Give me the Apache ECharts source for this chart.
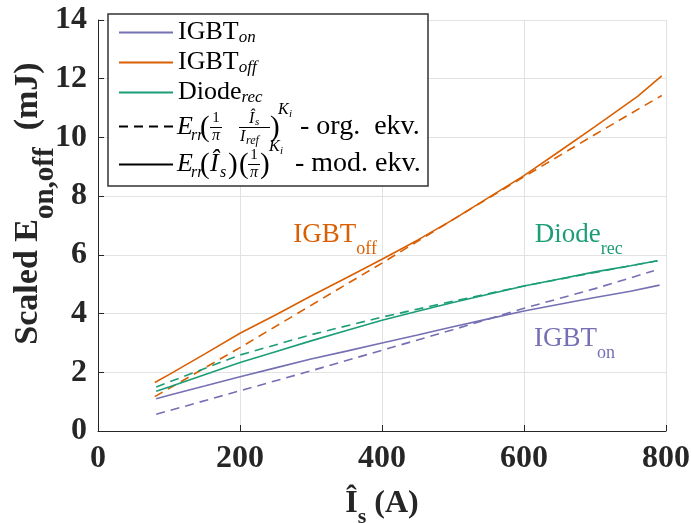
<!DOCTYPE html>
<html>
<head>
<meta charset="utf-8">
<script src="https://cdn.jsdelivr.net/npm/echarts@6/dist/echarts.min.js"></script>
<style>html,body{margin:0;padding:0;background:#fff}#c{width:691px;height:523px}</style>
</head>
<body>
<div id="c"></div>
<script>
// ---- data ----
const xTicks = [0, 200, 400, 600, 800];
const yTicks = [0, 2, 4, 6, 8, 10, 12, 14];

const igbtOnX      = [82, 100, 150, 200, 250, 300, 350, 400, 450, 500, 550, 600, 650, 700, 750, 791];
const igbtOnMod    = [1.10, 1.22, 1.53, 1.85, 2.15, 2.45, 2.72, 3.00, 3.27, 3.55, 3.82, 4.09, 4.32, 4.55, 4.76, 4.97];
const igbtOnOrgX   = [82, 200, 300, 400, 500, 600, 700, 783];
const igbtOnOrg    = [0.57, 1.37, 2.05, 2.75, 3.45, 4.18, 4.85, 5.46];

const igbtOffX     = [80, 100, 150, 200, 250, 300, 350, 400, 450, 500, 550, 600, 650, 700, 760, 794];
const igbtOffMod   = [1.65, 1.92, 2.62, 3.33, 3.95, 4.60, 5.22, 5.85, 6.50, 7.20, 7.95, 8.70, 9.53, 10.37, 11.40, 12.10];
const igbtOffOrgX  = [80, 200, 300, 400, 500, 600, 700, 794];
const igbtOffOrg   = [1.17, 2.84, 4.28, 5.72, 7.20, 8.66, 10.10, 11.43];

const diodeX       = [82, 100, 150, 200, 250, 300, 350, 400, 450, 500, 550, 600, 650, 700, 750, 788];
const diodeMod     = [1.35, 1.50, 1.92, 2.33, 2.70, 3.07, 3.42, 3.77, 4.08, 4.38, 4.66, 4.94, 5.18, 5.42, 5.63, 5.80];
const diodeOrgX    = [82, 200, 300, 400, 500, 600, 700, 788];
const diodeOrg     = [1.50, 2.59, 3.28, 3.88, 4.42, 4.94, 5.40, 5.80];

const seriesNames = ['IGBT_on', 'IGBT_off', 'Diode_rec', 'org', 'mod'];
// annotation anchors [x, y] in data units
const annOff   = [334, 6.68];
const annDiode = [677, 6.68];
const annOn    = [671, 3.13];

// ---- styling ----
const C_ON = '#7570b3', C_OFF = '#d95f02', C_DI = '#1b9e77';
const SERIF = '"Liberation Serif", "Times New Roman", serif';
const DASH = [9, 6];

function pairs(xs, ys) { return xs.map((x, i) => [x, ys[i]]); }

function annLabel(color, main, sub) {
  return {
    show: true, position: 'inside',
    formatter: '{m|' + main + '}{s|' + sub + '}',
    rich: {
      m: { fontFamily: SERIF, fontSize: 27, lineHeight: 27, color: color },
      s: { fontFamily: SERIF, fontSize: 18, lineHeight: 18, padding: [28, 0, 0, 0], color: color }
    }
  };
}
function mp(coord, color, main, sub) {
  return {
    symbol: 'circle', symbolSize: 1, silent: true,
    itemStyle: { color: 'transparent' },
    label: annLabel(color, main, sub),
    data: [{ coord: coord }]
  };
}

const chart = echarts.init(document.getElementById('c'), null, { renderer: 'canvas' });

const axisCol = '#262626';
const option = {
  animation: false,
  backgroundColor: '#fff',
  grid: { left: 98, right: 25, top: 20, bottom: 92, containLabel: false, outerBoundsMode: 'none' },
  xAxis: {
    type: 'value', min: xTicks[0], max: xTicks[xTicks.length - 1], interval: 200,
    name: '{m|Î}{s|s}{m| (A)}', nameLocation: 'middle', nameGap: 41,
    nameTextStyle: {
      rich: {
        m: { fontFamily: SERIF, fontWeight: 'bold', fontSize: 32, lineHeight: 32, color: axisCol },
        s: { fontFamily: SERIF, fontWeight: 'bold', fontSize: 22, lineHeight: 22, padding: [26, 0, 0, 0], color: axisCol }
      }
    },
    axisLine: { lineStyle: { color: axisCol, width: 1 } },
    axisTick: { inside: true, length: 6, lineStyle: { color: axisCol } },
    axisLabel: { fontFamily: SERIF, fontWeight: 'bold', fontSize: 32, color: axisCol, margin: 12 },
    splitLine: { show: true, lineStyle: { color: '#e2e2e2', width: 1 } }
  },
  yAxis: {
    type: 'value', min: yTicks[0], max: yTicks[yTicks.length - 1], interval: 2,
    name: '{m|Scaled E}{s|on,off}{m|  (mJ)}', nameLocation: 'middle', nameGap: 53, nameRotate: 90,
    nameMoveOverlap: false,
    nameTextStyle: {
      padding: [0, 0, 0, 44],
      rich: {
        m: { fontFamily: SERIF, fontWeight: 'bold', fontSize: 34, lineHeight: 34, color: axisCol },
        s: { fontFamily: SERIF, fontWeight: 'bold', fontSize: 29, lineHeight: 29, padding: [36, 0, 0, 0], color: axisCol }
      }
    },
    axisLine: { show: true, lineStyle: { color: axisCol, width: 1 } },
    axisTick: { show: true, inside: true, length: 6, lineStyle: { color: axisCol } },
    axisLabel: { fontFamily: SERIF, fontWeight: 'bold', fontSize: 32, color: axisCol, margin: 11 },
    splitLine: { show: true, lineStyle: { color: '#e2e2e2', width: 1 } }
  },
  legend: {
    show: true, orient: 'vertical', left: 108, top: 14,
    data: seriesNames, selectedMode: false,
    padding: [5, 4, 4, 10], itemGap: 3, itemWidth: 54, itemHeight: 14,
    itemStyle: { opacity: 0 },
    backgroundColor: '#fff', borderColor: '#333', borderWidth: 1.5, borderRadius: 0,
    formatter: function (name) {
      if (name === 'IGBT_on') return '{m|IGBT}{s|on}';
      if (name === 'IGBT_off') return '{m|IGBT}{s|off}';
      if (name === 'Diode_rec') return '{m|Diode}{s|rec}';
      return '{b|}';
    },
    textStyle: {
      rich: {
        m: { fontFamily: SERIF, fontSize: 26, lineHeight: 30, color: '#000' },
        s: { fontFamily: SERIF, fontStyle: 'italic', fontSize: 17, lineHeight: 20, padding: [10, 0, 0, 0], color: '#000' },
        b: { width: 246, height: 35, lineHeight: 35 }
      }
    }
  },
  series: [
    { name: 'IGBT_on', type: 'line', data: pairs(igbtOnX, igbtOnMod), showSymbol: false, symbol: 'none',
      color: C_ON, lineStyle: { color: C_ON, width: 1.6 }, z: 3,
      markPoint: mp(annOn, C_ON, 'IGBT', 'on') },
    { name: 'IGBT_off', type: 'line', data: pairs(igbtOffX, igbtOffMod), showSymbol: false, symbol: 'none',
      color: C_OFF, lineStyle: { color: C_OFF, width: 1.6 }, z: 3,
      markPoint: mp(annOff, C_OFF, 'IGBT', 'off') },
    { name: 'Diode_rec', type: 'line', data: pairs(diodeX, diodeMod), showSymbol: false, symbol: 'none',
      color: C_DI, lineStyle: { color: C_DI, width: 1.6 }, z: 3,
      markPoint: mp(annDiode, C_DI, 'Diode', 'rec') },
    { name: 'IGBT_on org', type: 'line', data: pairs(igbtOnOrgX, igbtOnOrg), showSymbol: false, symbol: 'none',
      lineStyle: { color: C_ON, width: 1.6, type: DASH }, z: 2 },
    { name: 'IGBT_off org', type: 'line', data: pairs(igbtOffOrgX, igbtOffOrg), showSymbol: false, symbol: 'none',
      lineStyle: { color: C_OFF, width: 1.6, type: DASH }, z: 2 },
    { name: 'Diode_rec org', type: 'line', data: pairs(diodeOrgX, diodeOrg), showSymbol: false, symbol: 'none',
      lineStyle: { color: C_DI, width: 1.6, type: DASH }, z: 2 },
    { name: 'org', type: 'line', data: [], symbol: 'none', color: '#000',
      lineStyle: { color: '#000', width: 1.6, type: DASH } },
    { name: 'mod', type: 'line', data: [], symbol: 'none', color: '#000',
      lineStyle: { color: '#000', width: 1.6 } }
  ]
};

// ---- legend formula text (math layout) ----
function mid(baseline, size) { return baseline - 0.3375 * size; }
function T(text, x, baseline, size, opts) {
  opts = opts || {};
  return {
    type: 'text', z: 100, silent: true,
    style: {
      text: text, x: x, y: mid(baseline, size),
      font: (opts.italic ? 'italic ' : '') + size + 'px ' + SERIF,
      fill: '#000', align: opts.align || 'left', verticalAlign: 'middle'
    }
  };
}
function bar(x1, x2, y) {
  return { type: 'line', z: 100, silent: true, shape: { x1: x1, y1: y, x2: x2, y2: y }, style: { stroke: '#000', lineWidth: 1 } };
}
const B4 = 136, B5 = 173;
const formula = [
  // row 4: E_rr( 1/π · Î_s/I_ref )^{K_i} - org. ekv.
  T('E', 177, B4, 26, { italic: true }),
  T('rr', 191, B4 + 5, 16, { italic: true }),
  T('(', 200, B4 + 2, 29),
  T('1', 216, B4 - 13, 15, { align: 'center' }),
  bar(210, 222, B4 - 8.5),
  T('π', 216, B4 + 5, 16, { italic: true, align: 'center' }),
  T('Î', 249, B4 - 12, 16, { italic: true }),
  T('s', 255, B4 - 10, 11, { italic: true }),
  bar(239, 270, B4 - 8.5),
  T('I', 240, B4 + 6, 16, { italic: true }),
  T('ref', 246, B4 + 9, 12, { italic: true }),
  T(')', 270, B4 + 2, 29),
  T('K', 278, B4 - 21, 16, { italic: true }),
  T('i', 289, B4 - 18, 11, { italic: true }),
  T('- org.  ekv.', 300, B4, 28),
  // row 5: E_rr(Î_s) (1/π)^{K_i} - mod. ekv.
  T('E', 177, B5, 26, { italic: true }),
  T('rr', 191, B5 + 5, 16, { italic: true }),
  T('(', 200, B5 + 2, 29),
  T('Î', 210, B5, 26, { italic: true }),
  T('s', 220, B5 + 5, 16, { italic: true }),
  T(')', 228, B5 + 2, 29),
  T('(', 239, B5 + 2, 29),
  T('1', 254, B5 - 13, 15, { align: 'center' }),
  bar(248, 260, B5 - 8.5),
  T('π', 254, B5 + 5, 16, { italic: true, align: 'center' }),
  T(')', 260, B5 + 2, 29),
  T('K', 269, B5 - 21, 16, { italic: true }),
  T('i', 280, B5 - 18, 11, { italic: true }),
  T('- mod. ekv.', 295, B5, 28)
];
option.graphic = formula;

chart.setOption(option);
</script>
</body>
</html>
